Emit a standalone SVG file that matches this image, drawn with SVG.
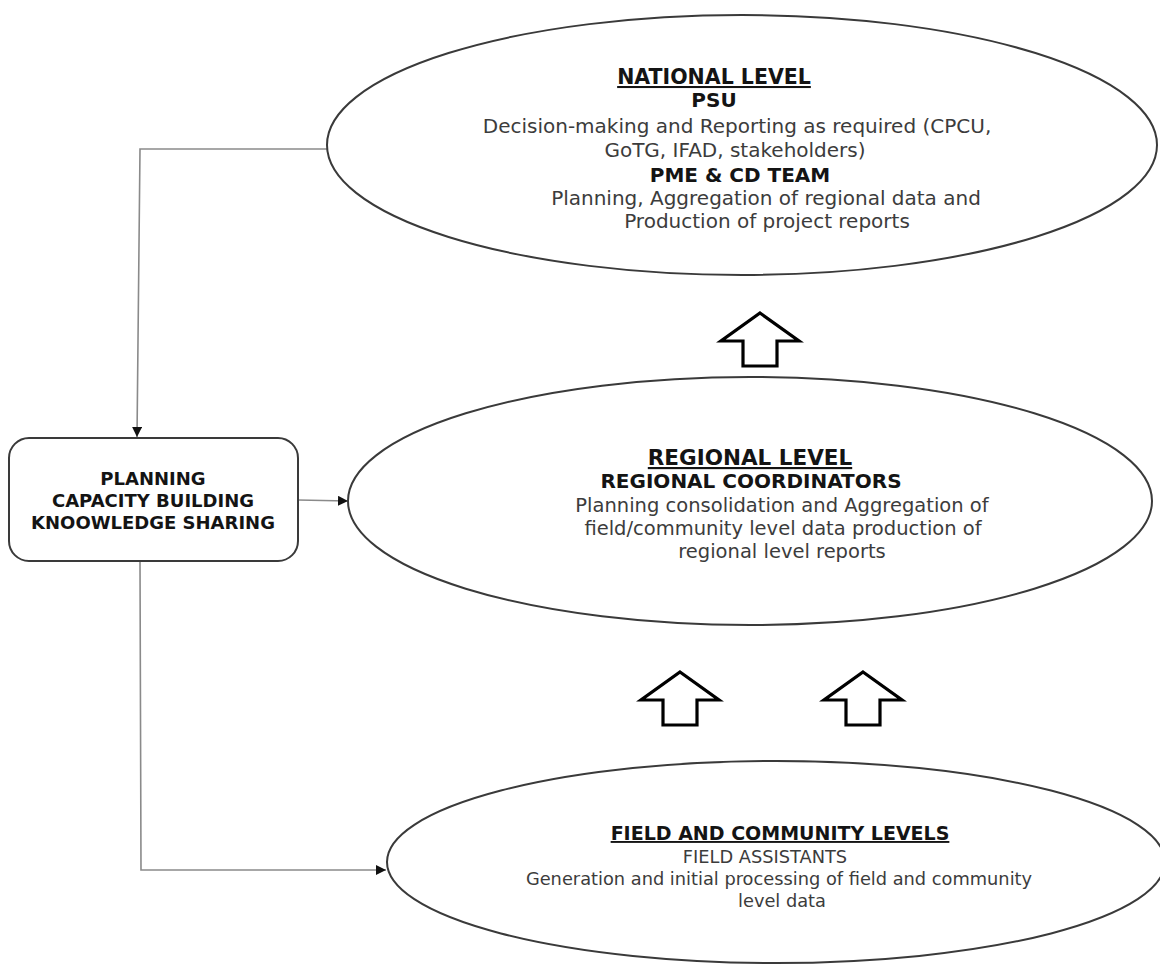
<svg xmlns="http://www.w3.org/2000/svg" width="1160" height="965" viewBox="0 0 1160 965">
  <style>
    .shape { fill: #ffffff; stroke: #3a3a3a; stroke-width: 2; }
    .box { fill: #ffffff; stroke: #3a3a3a; stroke-width: 2; }
    .link { fill: none; stroke: #8a8a8a; stroke-width: 1.6; }
    .up { fill: #ffffff; stroke: #000000; stroke-width: 3.2; stroke-linejoin: miter; }
    text { font-family: "DejaVu Sans", Verdana, sans-serif; text-anchor: middle; }
    .h { font-weight: bold; fill: #141414; text-decoration: underline; }
    .b { font-weight: bold; fill: #141414; }
    .t { fill: #3c3c3c; }
    .n { font-size: 20px; }
    .nh { font-size: 20.5px; }
    .r { font-size: 19.5px; }
    .rh { font-size: 21.5px; }
    .rb { font-size: 20px; }
    .f { font-size: 17.8px; }
    .fh { font-size: 19px; }
    .p { font-size: 18px; }
  </style>
  <defs>
    <marker id="tip" viewBox="0 0 10 10" refX="10" refY="5" markerWidth="10" markerHeight="10" markerUnits="userSpaceOnUse" orient="auto">
      <path d="M0,0 L10,5 L0,10 Z" fill="#111111"/>
    </marker>
    <path id="uparrow" class="up" d="M0,0 L39,28 L17,28 L17,53 L-17,53 L-17,28 L-39,28 Z"/>
  </defs>

  <!-- connectors -->
  <g id="connectors">
    <path class="link" d="M327,149 L140,149 L137,437" marker-end="url(#tip)"/>
    <path class="link" d="M298,500 L348,501" marker-end="url(#tip)"/>
    <path class="link" d="M140,562 L141,870 L386,870" marker-end="url(#tip)"/>
    <use href="#uparrow" x="760" y="313"/>
    <use href="#uparrow" x="680" y="672"/>
    <use href="#uparrow" x="863" y="672"/>
  </g>

  <!-- national level -->
  <g id="national">
    <ellipse class="shape" cx="742" cy="145" rx="415" ry="130"/>
    <text class="h nh" x="714" y="84">NATIONAL LEVEL</text>
    <text class="b n" x="714" y="107">PSU</text>
    <text class="t n" x="737" y="133">Decision-making and Reporting as required (CPCU,</text>
    <text class="t n" x="735" y="157">GoTG, IFAD, stakeholders)</text>
    <text class="b n" x="740" y="182">PME &amp; CD TEAM</text>
    <text class="t n" x="766" y="205">Planning, Aggregation of regional data and</text>
    <text class="t n" x="767" y="228">Production of project reports</text>
  </g>

  <!-- planning / capacity building box -->
  <g id="support">
    <rect class="box" x="9" y="438" width="289" height="123" rx="20" ry="20"/>
    <text class="b p" x="153" y="485">PLANNING</text>
    <text class="b p" x="153" y="507">CAPACITY BUILDING</text>
    <text class="b p" x="153" y="529">KNOOWLEDGE SHARING</text>
  </g>

  <!-- regional level -->
  <g id="regional">
    <ellipse class="shape" cx="750" cy="501" rx="402" ry="124"/>
    <text class="h rh" x="750" y="465">REGIONAL LEVEL</text>
    <text class="b rb" x="751" y="488">REGIONAL COORDINATORS</text>
    <text class="t r" x="782" y="512">Planning consolidation and Aggregation of</text>
    <text class="t r" x="783" y="535">field/community level data production of</text>
    <text class="t r" x="782" y="558">regional level reports</text>
  </g>

  <!-- field and community levels -->
  <g id="field">
    <ellipse class="shape" cx="776" cy="862" rx="389" ry="101"/>
    <text class="h fh" x="780" y="840">FIELD AND COMMUNITY LEVELS</text>
    <text class="t f" x="765" y="863">FIELD ASSISTANTS</text>
    <text class="t f" x="779" y="885">Generation and initial processing of field and community</text>
    <text class="t f" x="782" y="907">level data</text>
  </g>
</svg>
